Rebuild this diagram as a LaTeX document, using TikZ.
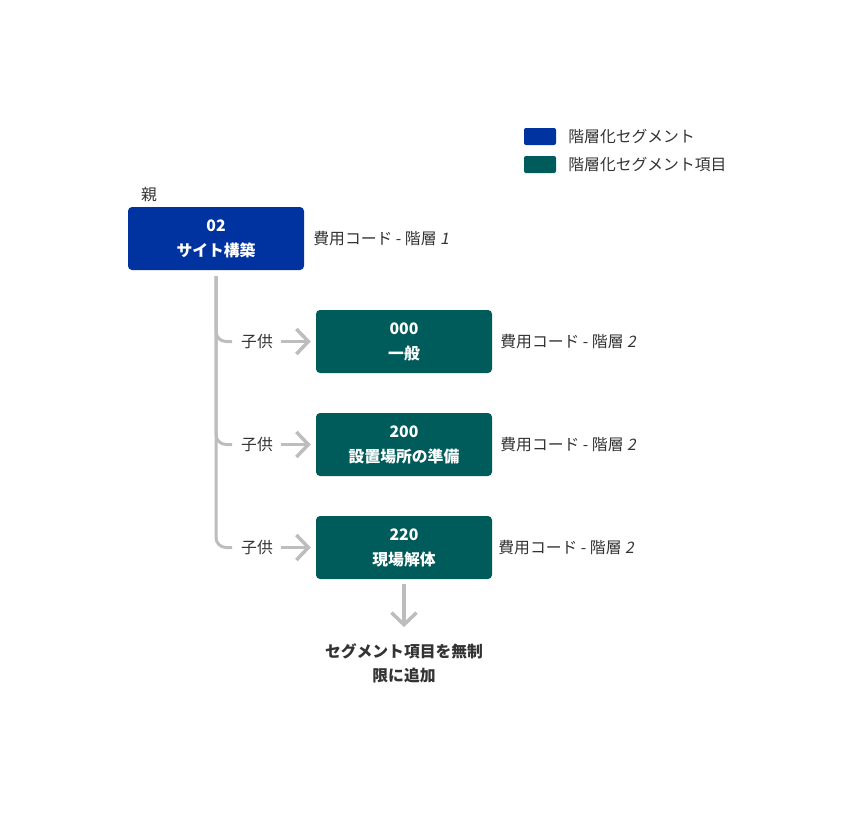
\documentclass[tikz,border=0pt]{standalone}
\usepackage{fontspec}
\setmainfont[AutoFakeSlant=0.2]{Noto Sans CJK JP}
\usepackage{tikz}
\usetikzlibrary{positioning,arrows.meta}
\definecolor{segblue}{HTML}{0033A0}
\definecolor{segteal}{HTML}{005B5B}
\definecolor{treegray}{HTML}{BDBDBD}
\definecolor{ink}{HTML}{333333}

\begin{document}
\begin{tikzpicture}[x=1pt,y=-1pt,
  seg/.style={fill=segblue, rounded corners=4pt, minimum width=176pt, minimum height=63pt,
    text=white, align=center, font=\bfseries\fontsize{15.8}{25}\selectfont},
  item/.style={seg, fill=segteal},
  lbl/.style={text=ink, inner sep=0pt, font=\fontsize{15.8}{18}\selectfont},
  legbox/.style={rounded corners=2pt, minimum width=32pt, minimum height=17pt, inner sep=0pt},
  tree/.style={draw=treegray, line width=3pt, rounded corners=10pt},
  arr/.style={draw=treegray, line width=3.5pt, -{Straight Barb[length=12pt,width=25pt]}}]
\useasboundingbox (0,0) rectangle (851,823);

% legend
\node[legbox, fill=segblue] (leg1) at (540,136.5) {};
\node[legbox, fill=segteal] (leg2) at (540,164.5) {};
\node[lbl, right=12pt of leg1] (leg1t) {階層化セグメント};
\node[lbl, right=12pt of leg2] (leg2t) {階層化セグメント項目};

% parent
\node[seg] (root) at (216,238.5) {02\\サイト構築};
\node[lbl] (oya) at (149,195) {親};
\node[lbl, right=9pt of root] (rootl) {費用コード - 階層 \textit{1}};

% children
\node[item] (c1) at (404,341.5) {000\\一般};
\node[item] (c2) at (404,444.5) {200\\設置場所の準備};
\node[item] (c3) at (404,547.5) {220\\現場解体};
\node[lbl, right=8pt of c1] (c1l) {費用コード - 階層 \textit{2}};
\node[lbl, right=8pt of c2] (c2l) {費用コード - 階層 \textit{2}};
\node[lbl, right=6pt of c3] (c3l) {費用コード - 階層 \textit{2}};

\node[lbl] (k1) at (257,341.5) {子供};
\node[lbl] (k2) at (257,444.5) {子供};
\node[lbl] (k3) at (257,547.5) {子供};

% tree lines
\coordinate (top) at ([yshift=-6pt]root.south);
\draw[tree] (top) |- ([xshift=-9pt]k1.west);
\draw[tree] (top) |- ([xshift=-9pt]k2.west);
\draw[tree] (top) |- ([xshift=-9pt]k3.west);

\draw[arr, shorten <=8pt, shorten >=5pt] (k1) -- (c1);
\draw[arr, shorten <=8pt, shorten >=5pt] (k2) -- (c2);
\draw[arr, shorten <=8pt, shorten >=5pt] (k3) -- (c3);

% more items
\node[lbl, align=center, font=\bfseries\fontsize{15.8}{24}\selectfont] (more) at (404,663) {セグメント項目を無制\\限に追加};
\draw[arr, shorten <=5pt, shorten >=16pt] (c3) -- (more);

\end{tikzpicture}
\end{document}
